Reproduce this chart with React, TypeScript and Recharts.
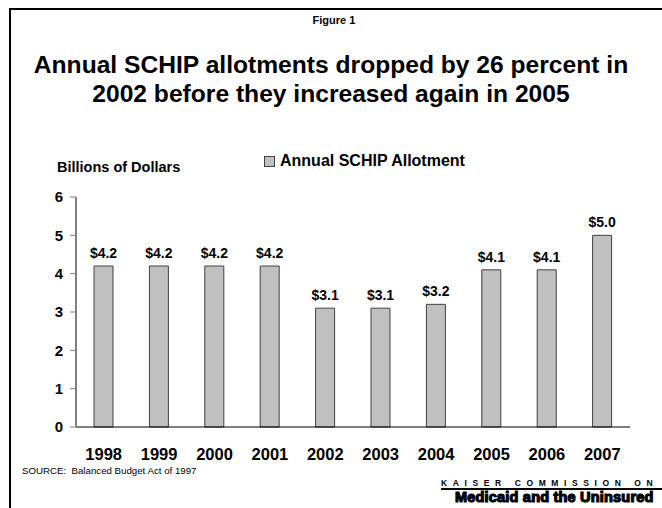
import { BarChart, Bar, XAxis, YAxis, LabelList } from 'recharts'

const years = ['1998', '1999', '2000', '2001', '2002', '2003', '2004', '2005', '2006', '2007']
const allotments = [4.2, 4.2, 4.2, 4.2, 3.1, 3.1, 3.2, 4.1, 4.1, 5.0]
const yTicks = [0, 1, 2, 3, 4, 5, 6]

const seriesName = 'Annual SCHIP Allotment'
const font = '"Liberation Sans", Arial, sans-serif'

const data = years.map((year, i) => ({ year, value: allotments[i] }))

export default function App() {
  return (
    <div style={{ position: 'absolute', left: 0, top: 0, width: 662, height: 508, overflow: 'hidden', background: '#fff', fontFamily: font, color: '#000' }}>
      {/* frame */}
      <div style={{ position: 'absolute', left: 9, top: 8, width: 700, height: 600, borderLeft: '2px solid #000', borderTop: '2px solid #000' }} />

      <div style={{ position: 'absolute', top: 14, left: 3, width: 662, textAlign: 'center', fontWeight: 'bold', fontSize: 11 }}>Figure 1</div>

      <div style={{ position: 'absolute', top: 51, left: 0, width: 662, textAlign: 'center', fontWeight: 'bold', fontSize: 23, lineHeight: '29px', transform: 'scaleX(1.07)', transformOrigin: '331px 0' }}>
        Annual SCHIP allotments dropped by 26 percent in
        <br />
        2002 before they increased again in 2005
      </div>

      <div style={{ position: 'absolute', top: 159, left: 57, fontWeight: 'bold', fontSize: 14.5, whiteSpace: 'nowrap' }}>Billions of Dollars</div>

      {/* legend */}
      <div style={{ position: 'absolute', left: 264, top: 152, display: 'flex', alignItems: 'center', fontWeight: 'bold', fontSize: 16, whiteSpace: 'nowrap' }}>
        <span style={{ display: 'inline-block', width: 9, height: 9, background: '#c0c0c0', border: '1px solid #404040', marginRight: 5 }} />
        {seriesName}
      </div>

      <BarChart
        width={662}
        height={508}
        data={data}
        margin={{ top: 197, right: 32, bottom: 51, left: 16 }}
        style={{ position: 'absolute', left: 0, top: 0 }}
      >
        <XAxis
          dataKey="year"
          tickLine={false}
          tickSize={6}
          tickMargin={15}
          axisLine={{ stroke: '#000', strokeWidth: 1 }}
          tick={{ fill: '#000', fontSize: 16.5, fontWeight: 'bold', fontFamily: font }}
          height={30}
          interval={0}
        />
        <YAxis
          domain={[0, 6]}
          ticks={yTicks}
          width={60}
          axisLine={{ stroke: '#808080', strokeWidth: 2 }}
          tickLine={{ stroke: '#808080', strokeWidth: 1 }}
          tickSize={6}
          tickMargin={7}
          tick={{ fill: '#000', fontSize: 15, fontWeight: 'bold', fontFamily: font }}
        />
        <Bar dataKey="value" name={seriesName} fill="#c0c0c0" stroke="#404040" strokeWidth={1} barSize={19} isAnimationActive={false}>
          <LabelList
            dataKey="value"
            position="top"
            offset={8}
            formatter={(v: any) => `$${Number(v).toFixed(1)}`}
            style={{ fill: '#000', fontSize: 14, fontWeight: 'bold', fontFamily: font }}
          />
        </Bar>
      </BarChart>

      <div style={{ position: 'absolute', top: 465, left: 22, fontSize: 9.7, whiteSpace: 'nowrap' }}>SOURCE:&nbsp; Balanced Budget Act of 1997</div>

      {/* logo */}
      <div style={{ position: 'absolute', top: 478, left: 441, fontWeight: 'bold', fontSize: 8.5, letterSpacing: 5.6, lineHeight: '10px', whiteSpace: 'nowrap' }}>
        KAISER COMMISSION O<span style={{ letterSpacing: 0 }}>N</span>
      </div>
      <div style={{ position: 'absolute', top: 488, left: 441, width: 221, height: 2, background: '#000' }} />
      <div style={{ position: 'absolute', top: 489, left: 455, fontWeight: 900, fontSize: 14.5, lineHeight: '17px', letterSpacing: 0.2, WebkitTextStroke: '1.2px #000', whiteSpace: 'nowrap' }}>
        Medicaid and the Uninsured
      </div>
    </div>
  )
}
